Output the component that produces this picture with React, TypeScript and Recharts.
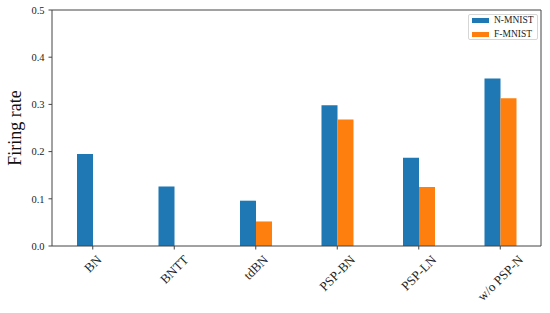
import { BarChart, Bar, XAxis, YAxis } from 'recharts'

const CATEGORIES = ['BN', 'BNTT', 'tdBN', 'PSP-BN', 'PSP-LN', 'w/o PSP-N']
const N_MNIST = [0.195, 0.126, 0.096, 0.298, 0.187, 0.355]
const F_MNIST = [null, null, 0.052, 0.268, 0.125, 0.313]
const Y_TICKS = [0, 0.1, 0.2, 0.3, 0.4, 0.5]
const SERIES = [
  { key: 'nmnist', name: 'N-MNIST', color: '#1f77b4' },
  { key: 'fmnist', name: 'F-MNIST', color: '#ff7f0e' },
]

const data = CATEGORIES.map((name, i) => ({ name, nmnist: N_MNIST[i], fmnist: F_MNIST[i] }))

const FONT = '"Liberation Serif", "DejaVu Serif", serif'
const SPINE = '#444'

let ctx: CanvasRenderingContext2D | null = null
const textWidth = (text: string, size: number) => {
  if (!ctx) ctx = document.createElement('canvas').getContext('2d')
  if (!ctx) return text.length * size * 0.55
  ctx.font = `${size}px "Liberation Serif"`
  return ctx.measureText(text).width
}

// matplotlib-style rotated label: 45deg, centred under the tick
const XTick = ({ x, y, payload }: any) => {
  const size = 13
  const w = textWidth(payload.value, size)
  const half = ((w + size * 0.85) * Math.SQRT1_2) / 2
  const cy = y + 4 + half
  return (
    <text
      x={x}
      y={cy}
      textAnchor="middle"
      dominantBaseline="central"
      transform={`rotate(-45, ${x}, ${cy})`}
      fontFamily={FONT}
      fontSize={size}
      fill="#222"
    >
      {payload.value}
    </text>
  )
}

export default function App() {
  return (
    <div style={{ position: 'absolute', left: 0, top: 0, width: 550, height: 313, background: '#fff' }}>
      <BarChart
        width={550}
        height={313}
        data={data}
        margin={{ top: 9, right: 8, left: 0, bottom: 0 }}
        barGap={0}
        barCategoryGap={0}
      >
        <XAxis
          dataKey="name"
          height={67}
          tick={<XTick />}
          tickSize={3.5}
          tickMargin={0}
          stroke={SPINE}
          interval={0}
        />
        <XAxis xAxisId="top" orientation="top" dataKey="name" height={1} tick={false} tickLine={false} stroke={SPINE} />
        <YAxis
          width={52}
          domain={[0, 0.5]}
          ticks={Y_TICKS}
          tickFormatter={(v: number) => v.toFixed(1)}
          tickSize={3.5}
          tickMargin={4}
          stroke={SPINE}
          tick={{ fill: '#222', fontFamily: FONT, fontSize: 10.5 }}
          label={{
            value: 'Firing rate',
            angle: -90,
            position: 'insideLeft',
            offset: 15,
            style: { textAnchor: 'middle', fontFamily: FONT, fontSize: 18, fill: '#111' },
          }}
        />
        <YAxis yAxisId="right" orientation="right" width={1} domain={[0, 0.5]} tick={false} tickLine={false} stroke={SPINE} />
        {SERIES.map((s) => (
          <Bar key={s.key} dataKey={s.key} name={s.name} fill={s.color} barSize={16} isAnimationActive={false} />
        ))}
      </BarChart>
      <div
        style={{
          position: 'absolute',
          left: 468,
          top: 14,
          width: 70,
          height: 26,
          boxSizing: 'border-box',
          border: '1px solid #d6d6d6',
          borderRadius: 2,
          background: 'rgba(255,255,255,0.8)',
          fontFamily: FONT,
          fontSize: 9.5,
          color: '#222',
        }}
      >
        {SERIES.map((s, i) => (
          <div
            key={s.key}
            style={{ position: 'absolute', left: 3, top: i * 14, height: 10, display: 'flex', alignItems: 'center' }}
          >
            <span style={{ display: 'inline-block', width: 17, height: 5, background: s.color, marginRight: 5 }} />
            <span style={{ lineHeight: '10px', whiteSpace: 'nowrap' }}>{s.name}</span>
          </div>
        ))}
      </div>
    </div>
  )
}
